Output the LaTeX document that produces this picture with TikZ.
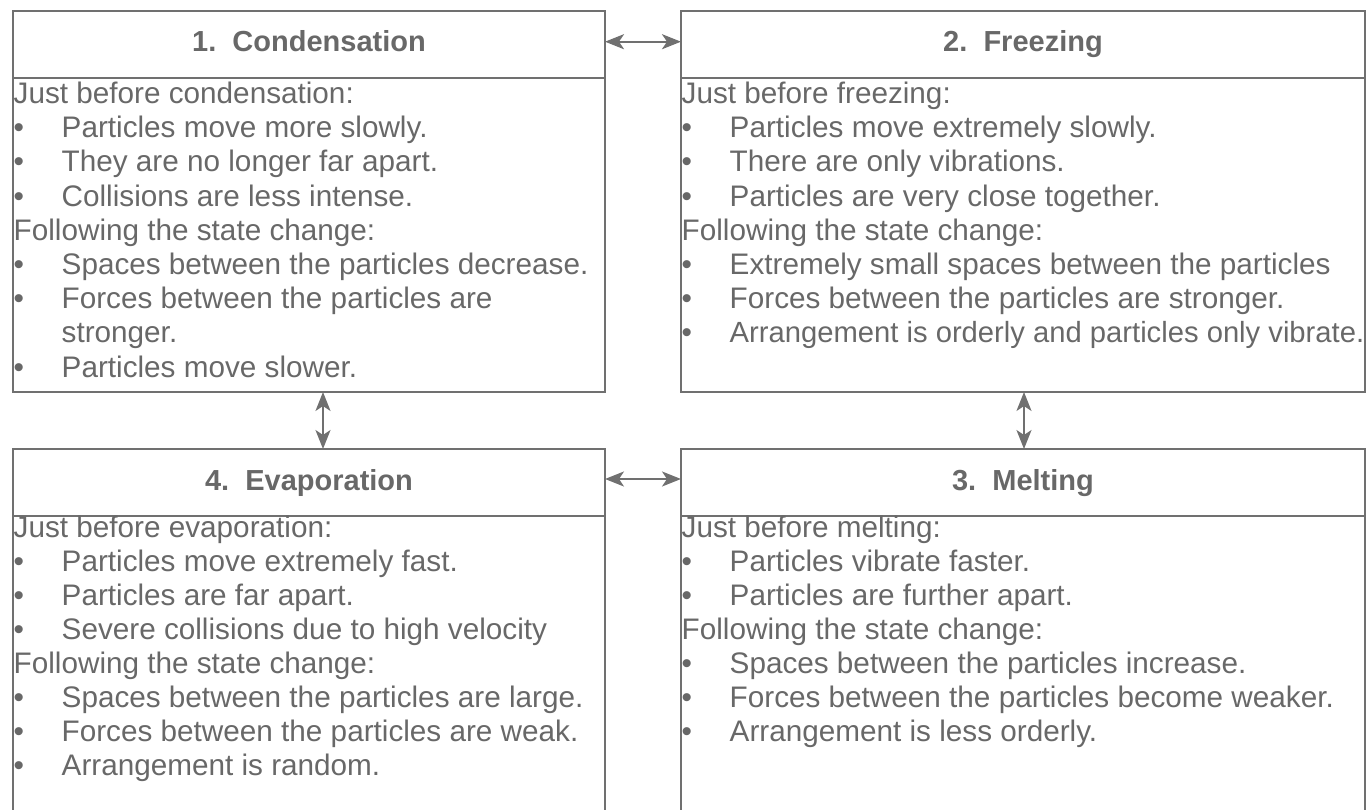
\documentclass[tikz,border=0pt]{standalone}
\usepackage{fontspec}
\setmainfont{Liberation Sans}
\usetikzlibrary{arrows.meta}
\definecolor{ln}{HTML}{707070}
\definecolor{tx}{HTML}{686868}
\newcommand{\bul}{\makebox[48pt][l]{•}}
\newcommand{\ind}{\makebox[48pt][l]{}}
\begin{document}
\begin{tikzpicture}[x=1pt,y=-1pt,
  boxline/.style={draw=ln,line width=2pt,inner sep=0pt,outer sep=0pt},
  ttl/.style={font=\fontsize{29}{34}\bfseries\selectfont,text=tx,inner sep=0pt,anchor=base},
  txt/.style={font=\fontsize{29.7}{34}\selectfont,text=tx,inner sep=0pt,anchor=base west},
  conn/.style={draw=ln,line width=2pt,{Stealth[length=19pt,width=15pt,inset=5pt]}-{Stealth[length=19pt,width=15pt,inset=5pt]}}]
\useasboundingbox (0,0) rectangle (1366,810);
% top row
\node[boxline,minimum width=592pt,minimum height=67pt] (t1) at (309,44.5) {};
\node[boxline,minimum width=592pt,minimum height=314pt,anchor=north west] (b1) at (t1.south west) {};
\node[boxline,minimum width=684pt,minimum height=67pt] (t2) at (1023,44.5) {};
\node[boxline,minimum width=684pt,minimum height=314pt,anchor=north west] (b2) at (t2.south west) {};
% bottom row
\node[boxline,minimum width=592pt,minimum height=67pt] (t4) at (309,482.5) {};
\node[boxline,minimum width=592pt,minimum height=324pt,anchor=north west] (b4) at (t4.south west) {};
\node[boxline,minimum width=684pt,minimum height=67pt] (t3) at (1023,482.5) {};
\node[boxline,minimum width=684pt,minimum height=324pt,anchor=north west] (b3) at (t3.south west) {};
% titles
\node[ttl] (h1) at (309,52) {1.\ \ Condensation};
\node[ttl] (h2) at (1023,52) {2.\ \ Freezing};
\node[ttl] (h4) at (309,490) {4.\ \ Evaporation};
\node[ttl] (h3) at (1023,490) {3.\ \ Melting};
% connectors
\draw[conn] ([yshift=2.8pt]t1.east) -- ([yshift=2.8pt]t2.west);
\draw[conn] ([yshift=3.5pt]t4.east) -- ([yshift=3.5pt]t3.west);
\draw[conn] ([xshift=14pt]b1.south) -- ([xshift=14pt]t4.north);
\draw[conn] ([xshift=1pt]b2.south) -- ([xshift=1pt]t3.north);
% texts
\foreach [count=\i] \t in {{Just before condensation:},{\bul Particles move more slowly.},{\bul They are no longer far apart.},{\bul Collisions are less intense.},{Following the state change:},{\bul Spaces between the particles decrease.},{\bul Forces between the particles are},{\ind stronger.},{\bul Particles move slower.}}
  \node[txt] (la\i) at (13.5,{103.5+(\i-1)*34.2}) {\t};
\foreach [count=\i] \t in {{Just before freezing:},{\bul Particles move extremely slowly.},{\bul There are only vibrations.},{\bul Particles are very close together.},{Following the state change:},{\bul Extremely small spaces between the particles},{\bul Forces between the particles are stronger.},{\bul\fontsize{29.2}{34}\selectfont Arrangement is orderly and particles only vibrate.}}
  \node[txt] (lb\i) at (681.5,{103.5+(\i-1)*34.2}) {\t};
\foreach [count=\i] \t in {{Just before evaporation:},{\bul Particles move extremely fast.},{\bul Particles are far apart.},{\bul Severe collisions due to high velocity},{Following the state change:},{\bul Spaces between the particles are large.},{\bul Forces between the particles are weak.},{\bul Arrangement is random.}}
  \node[txt] (ld\i) at (13.5,{537.5+(\i-1)*34}) {\t};
\foreach [count=\i] \t in {{Just before melting:},{\bul Particles vibrate faster.},{\bul Particles are further apart.},{Following the state change:},{\bul Spaces between the particles increase.},{\bul Forces between the particles become weaker.},{\bul Arrangement is less orderly.}}
  \node[txt] (lc\i) at (681.5,{537.5+(\i-1)*34}) {\t};
\end{tikzpicture}
\end{document}
